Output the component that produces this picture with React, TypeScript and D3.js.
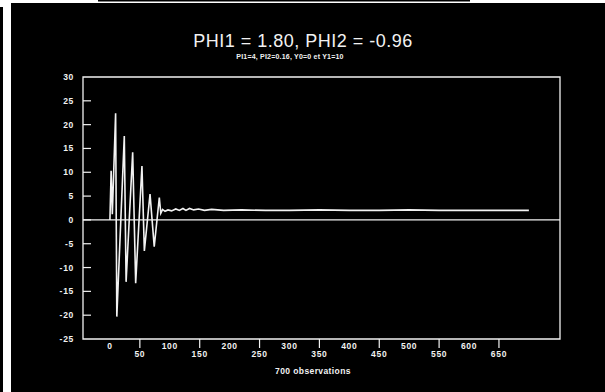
import * as d3 from 'd3'

const W = 605
const H = 392
const FRAME = { left: 83, right: 560, top: 77, bottom: 339 }

const obsIdx = [
  0, 2, 4, 9.5, 11.5, 24, 27, 38, 43, 53.5, 57.5, 67, 74, 82.5, 85, 88, 92, 97, 103, 110, 116,
  122, 127, 133, 140, 148, 158, 170, 190, 220, 260, 300, 350, 400, 450, 500, 550, 600, 650, 700,
]
const obsVal = [
  0, 10.3, 1.2, 22.4, -20.3, 17.6, -13, 14.2, -13.3, 11.3, -6.5, 5.4, -5.6, 4.7, 1.4, 2.2, 1.8,
  2.1, 1.9, 2.3, 2.0, 2.4, 2.0, 2.4, 2.1, 2.3, 2.0, 2.2, 2.0, 2.1, 2.0, 2.0, 2.1, 2.0, 2.0, 2.1,
  2.0, 2.0, 2.0, 2.0,
]

const yTicks = [30, 25, 20, 15, 10, 5, 0, -5, -10, -15, -20, -25]
const xUpperLabels = [0, 100, 200, 300, 400, 500, 600]
const xLowerLabels = [50, 150, 250, 350, 450, 550, 650]

const title = 'PHI1 = 1.80, PHI2 = -0.96'
const subtitle = 'PI1=4, PI2=0.16, Y0=0 et Y1=10'
const xTitle = '700 observations'

const INK = '#f2f2f2'
const FONT = '"Liberation Sans", Arial, sans-serif'

export default function App() {
  const xScale = d3.scaleLinear().domain([-45, 752]).range([FRAME.left, FRAME.right])
  const yScale = d3.scaleLinear().domain([-25, 30]).range([FRAME.bottom, FRAME.top])

  const points: [number, number][] = obsIdx.map((o, i) => [o, obsVal[i]])
  const line = d3
    .line<[number, number]>()
    .x((d) => xScale(d[0]))
    .y((d) => yScale(d[1]))

  const tickText = {
    fill: INK,
    fontFamily: FONT,
    fontSize: 8.5,
    fontWeight: 'bold',
    letterSpacing: 0.7,
  }

  return (
    <svg
      width={W}
      height={H}
      style={{ position: 'absolute', left: 0, top: 0, display: 'block' }}
    >
      {/* scan borders */}
      <rect x={0} y={0} width={W} height={H} fill="#fff" />
      <rect x={11} y={3} width={W - 11} height={H - 3} fill="#000" />
      <rect x={0} y={7} width={3} height={H - 7} fill="#000" />
      <rect x={98} y={0} width={372} height={1.5} fill="#000" />

      {/* titles */}
      <text
        x={303}
        y={47}
        textAnchor="middle"
        fill={INK}
        fontFamily={FONT}
        fontSize={18}
        letterSpacing={0.5}
      >
        {title}
      </text>
      <text
        x={290}
        y={59}
        textAnchor="middle"
        fill={INK}
        fontFamily={FONT}
        fontSize={7}
        fontWeight="bold"
        letterSpacing={0.2}
      >
        {subtitle}
      </text>

      {/* frame */}
      <path
        d={`M${FRAME.left},${FRAME.top}H${FRAME.right}V${FRAME.bottom}H${FRAME.left}Z`}
        fill="none"
        stroke={INK}
        strokeWidth={1.3}
      />

      {/* zero line */}
      <line
        x1={FRAME.left}
        x2={FRAME.right}
        y1={yScale(0)}
        y2={yScale(0)}
        stroke={INK}
        strokeWidth={1.3}
      />

      {/* y axis */}
      {yTicks.map((t) => (
        <g key={t}>
          {t < 30 && t > -25 && (
            <line
              x1={FRAME.left}
              x2={FRAME.left + 8}
              y1={yScale(t)}
              y2={yScale(t)}
              stroke={INK}
              strokeWidth={1.2}
            />
          )}
          <text x={74} y={yScale(t) + 3} textAnchor="end" {...tickText}>
            {t}
          </text>
        </g>
      ))}

      {/* x axis */}
      {xLowerLabels.map((t) => (
        <g key={t}>
          <line
            x1={xScale(t)}
            x2={xScale(t)}
            y1={FRAME.bottom}
            y2={FRAME.bottom + 9}
            stroke={INK}
            strokeWidth={1.2}
          />
          <text x={xScale(t)} y={357} textAnchor="middle" {...tickText}>
            {t}
          </text>
        </g>
      ))}
      {xUpperLabels.map((t) => (
        <text key={t} x={xScale(t)} y={349} textAnchor="middle" {...tickText}>
          {t}
        </text>
      ))}
      <text
        x={313}
        y={374}
        textAnchor="middle"
        fill={INK}
        fontFamily={FONT}
        fontSize={8.5}
        fontWeight="bold"
        letterSpacing={0.4}
      >
        {xTitle}
      </text>

      {/* series */}
      <path d={line(points) ?? ''} fill="none" stroke={INK} strokeWidth={1.6} />
    </svg>
  )
}
